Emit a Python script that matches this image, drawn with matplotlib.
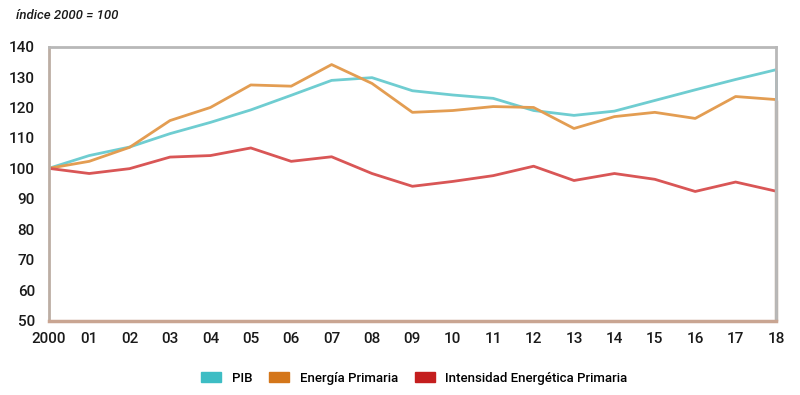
import matplotlib.pyplot as plt
from matplotlib.patches import Patch

plt.rcParams['font.family'] = ['Roboto', 'DejaVu Sans']
plt.rcParams['font.weight'] = 'medium'

years = list(range(2000, 2019))
year_labels = ['2000'] + ['%02d' % (y - 2000) for y in years[1:]]

pib = [100, 104.2, 107, 111.4, 115.1, 119.2, 124, 128.9, 129.8, 125.5,
       124.1, 123, 119, 117.4, 118.8, 122.3, 125.8, 129.2, 132.4]
energia = [100, 102.3, 106.9, 115.7, 120, 127.4, 127.0, 134.1, 127.9, 118.4,
           119, 120.3, 120, 113.1, 117, 118.4, 116.4, 123.6, 122.6]
intensidad = [100, 98.3, 99.9, 103.7, 104.2, 106.7, 102.3, 103.8, 98.3, 94.1,
              95.7, 97.6, 100.7, 96, 98.3, 96.4, 92.4, 95.5, 92.5]

c_pib, c_ene, c_int = '#6fcdd1', '#e39d52', '#d95656'
leg_pib, leg_ene, leg_int = '#3dbdc4', '#d4761a', '#c41e1e'

fig = plt.figure(figsize=(8, 3.95), dpi=100)
ax = fig.add_axes([0.061, 0.1886, 0.909, 0.6934])

ax.plot(years, pib, color=c_pib, lw=2)
ax.plot(years, energia, color=c_ene, lw=2)
ax.plot(years, intensidad, color=c_int, lw=2)

ax.set_xlim(years[0], years[-1])
ax.set_ylim(50, 140)
ax.set_yticks(range(50, 141, 10))
ax.set_xticks(years)
ax.set_xticklabels(year_labels)
ax.tick_params(length=0, labelsize=11, colors='#1a1a1a')
ax.tick_params(axis='x', pad=8)
ax.tick_params(axis='y', pad=10)

for s in ['top', 'right']:
    ax.spines[s].set_color('#b8b8b8')
    ax.spines[s].set_linewidth(2)
ax.spines['left'].set_color('#bcaea4')
ax.spines['left'].set_linewidth(2)
ax.spines['bottom'].set_color('#c9a592')
ax.spines['bottom'].set_linewidth(2.5)

# right edge drops from the end points
ax.vlines(years[-1], 50, energia[-1], color='#bcaa9a', lw=2.5, clip_on=False)
ax.vlines(years[-1], energia[-1], pib[-1], color=c_pib, lw=2, clip_on=False)

fig.text(0.02, 0.962, 'índice 2000 = 100', fontsize=9.5, style='italic',
         color='#1a1a1a', va='center')

handles = [Patch(color=leg_pib), Patch(color=leg_ene), Patch(color=leg_int)]
fig.legend(handles, ['PIB', 'Energía Primaria', 'Intensidad Energética Primaria'],
           loc='center', bbox_to_anchor=(0.518, 0.043), ncol=3, frameon=False,
           fontsize=9.5, handlelength=1.5, handleheight=0.7, columnspacing=1.3,
           handletextpad=0.8)

plt.savefig('out.png', dpi=100)
